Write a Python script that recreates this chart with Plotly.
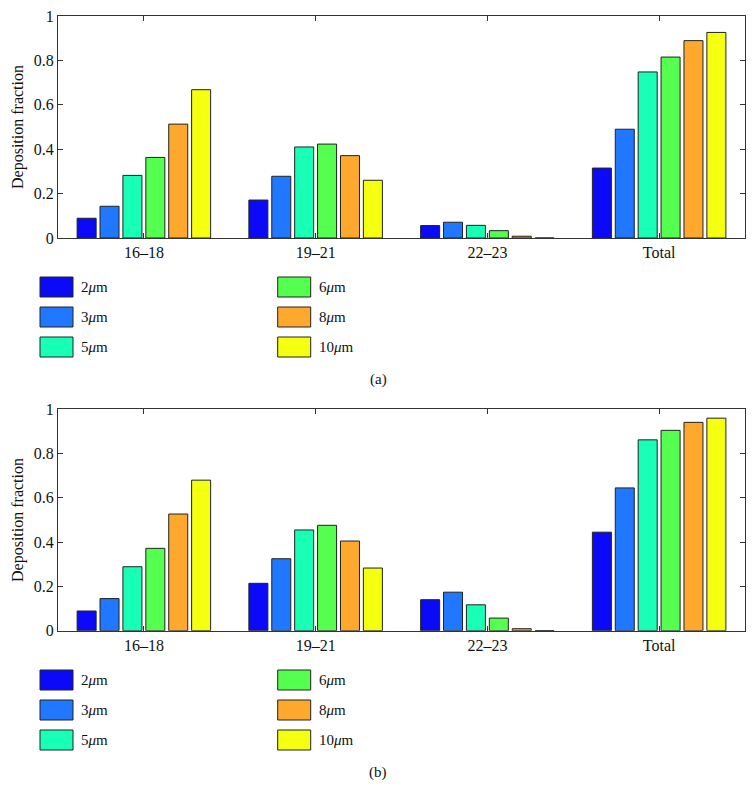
import plotly.graph_objects as go

categories = ["16–18", "19–21", "22–23", "Total"]
sizes = ["2", "3", "5", "6", "8", "10"]
colors = ["#0a0af8", "#1f78ff", "#18ffb6", "#55ff4f", "#ffa82e", "#f5ff10"]

# panel (a)
vals_a = {
    "2":  [0.089, 0.171, 0.056, 0.315],
    "3":  [0.143, 0.278, 0.071, 0.490],
    "5":  [0.282, 0.410, 0.057, 0.748],
    "6":  [0.363, 0.423, 0.033, 0.815],
    "8":  [0.513, 0.371, 0.008, 0.889],
    "10": [0.668, 0.260, 0.000, 0.926],
}
# panel (b)
vals_b = {
    "2":  [0.089, 0.214, 0.140, 0.445],
    "3":  [0.145, 0.325, 0.174, 0.645],
    "5":  [0.289, 0.455, 0.117, 0.862],
    "6":  [0.372, 0.476, 0.057, 0.905],
    "8":  [0.527, 0.405, 0.009, 0.941],
    "10": [0.680, 0.283, 0.000, 0.960],
}
panel_labels = ["(a)", "(b)"]

W, H = 756, 804
FONT = "'Liberation Serif', 'Times New Roman', 'DejaVu Serif', serif"

fig = go.Figure()
for pi, vals in enumerate([vals_a, vals_b]):
    xa = "x" if pi == 0 else "x2"
    ya = "y" if pi == 0 else "y2"
    for s, c in zip(sizes, colors):
        fig.add_trace(go.Bar(
            x=categories, y=vals[s], name=s + "μm", marker_color=c,
            marker_line_color="#222222", marker_line_width=1,
            xaxis=xa, yaxis=ya, showlegend=False,
        ))

def px_to_py(y):
    return 1 - y / H

x_dom = [58 / W, 745 / W]
ydom_a = [px_to_py(238), px_to_py(16)]
ydom_b = [px_to_py(630.7), px_to_py(409.3)]

axis_common = dict(
    showline=True, linecolor="#333333", linewidth=1, mirror="ticks",
    ticks="inside", ticklen=5, tickcolor="#333333",
    tickfont=dict(family=FONT, size=16, color="#111111"),
    showgrid=False, zeroline=False, automargin=False,
)
ytitle = dict(text="Deposition fraction", font=dict(family=FONT, size=16, color="#111111"), standoff=6)

fig.update_layout(
    template="none",
    width=W, height=H,
    margin=dict(l=0, r=0, t=0, b=0, pad=0),
    paper_bgcolor="white", plot_bgcolor="white",
    font=dict(family=FONT, color="#111111"),
    barmode="group", bargap=0.2, bargroupgap=0.17,
    xaxis=dict(domain=x_dom, anchor="y", **axis_common),
    yaxis=dict(domain=ydom_a, anchor="x", range=[0, 1], dtick=0.2, title=ytitle, **axis_common),
    xaxis2=dict(domain=x_dom, anchor="y2", **axis_common),
    yaxis2=dict(domain=ydom_b, anchor="x2", range=[0, 1], dtick=0.2, title=ytitle, **axis_common),
    showlegend=False,
)

# manual legends
shapes = []
annotations = []
legend_tops = [287, 680]
for pi in range(2):
    for i, (s, c) in enumerate(zip(sizes, colors)):
        col, row = i // 3, i % 3
        x0 = 40 if col == 0 else 277.7
        yc = legend_tops[pi] + 30 * row
        shapes.append(dict(type="rect", xref="paper", yref="paper",
                           x0=x0 / W, x1=(x0 + 33) / W,
                           y0=px_to_py(yc + 10), y1=px_to_py(yc - 10),
                           fillcolor=c, line=dict(color="#222222", width=1)))
        annotations.append(dict(xref="paper", yref="paper", x=(x0 + 39) / W, y=px_to_py(yc),
                                xanchor="left", yanchor="middle", showarrow=False,
                                text=s + "<i>μ</i>m",
                                font=dict(family=FONT, size=15, color="#111111")))
for lbl, yc in zip(panel_labels, [380, 772]):
    annotations.append(dict(xref="paper", yref="paper", x=378 / W, y=px_to_py(yc),
                            xanchor="center", yanchor="middle", showarrow=False,
                            text=lbl, font=dict(family=FONT, size=15, color="#111111")))

fig.update_layout(shapes=shapes, annotations=annotations)
fig.write_html("out.html", config={"displayModeBar": False},
               post_script="document.body.style.margin='0';document.body.style.padding='0';")
